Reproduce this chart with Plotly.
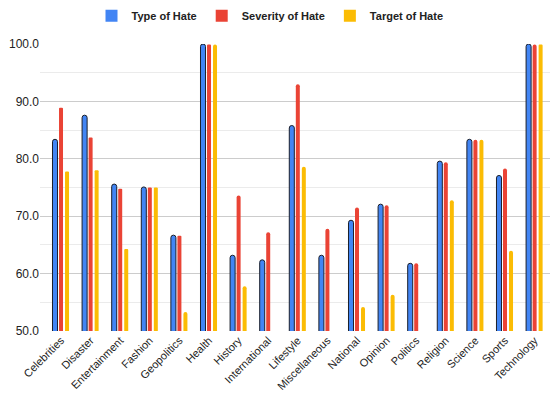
import plotly.graph_objects as go

categories = ["Celebrities", "Disaster", "Entertainment", "Fashion", "Geopolitics",
              "Health", "History", "International", "Lifestyle", "Miscellaneous",
              "National", "Opinion", "Politics", "Religion", "Science", "Sports",
              "Technology"]

type_of_hate = [83.4, 87.6, 75.6, 75.1, 66.7, 100.0, 63.2, 62.4, 85.8, 63.2,
                69.3, 72.1, 61.8, 79.6, 83.4, 77.1, 100.0]
severity_of_hate = [88.9, 83.7, 74.8, 75.0, 66.6, 99.9, 73.6, 67.2, 93.0, 67.8,
                    71.5, 71.9, 61.8, 79.4, 83.3, 78.3, 99.9]
target_of_hate = [77.8, 78.0, 64.3, 75.0, 53.3, 99.9, 57.8, None, 78.6, None,
                  54.2, 56.3, None, 72.8, 83.3, 64.0, 99.9]

y_ticks = [50, 60, 70, 80, 90, 100]

series = [
    ("Type of Hate", type_of_hate, "#4285F4"),
    ("Severity of Hate", severity_of_hate, "#EA4335"),
    ("Target of Hate", target_of_hate, "#FBBC04"),
]

font_family = "Liberation Sans, Arial, sans-serif"

# bar centres within each category slot (in category units) and bar widths
centres = [-0.203, 0.0, 0.203]
widths = [0.17, 0.135, 0.135]

fig = go.Figure()
for i, (name, values, color) in enumerate(series):
    is_first = i == 0
    fig.add_trace(go.Bar(
        name=name, x=categories, y=values,
        width=widths[i], offset=centres[i] - widths[i] / 2,
        marker=dict(
            color=color,
            line=dict(color="#1b1f2a", width=1) if is_first else dict(width=0),
            cornerradius=3 if is_first else 2,
        ),
        showlegend=False,
    ))

# square legend swatches
for name, values, color in series:
    fig.add_trace(go.Bar(
        name=name, x=[None], y=[None],
        marker=dict(color=color, line=dict(width=0)),
        showlegend=True,
    ))

fig.update_layout(
    width=550, height=398,
    margin=dict(l=40, r=0, t=44, b=67),
    paper_bgcolor="white", plot_bgcolor="white",
    barmode="overlay",
    font=dict(family=font_family, size=12, color="#222222"),
    legend=dict(
        orientation="h", x=0.451, xanchor="center", y=0.997, yanchor="top",
        yref="container", font=dict(size=11, color="#222222", weight="bold"),
        itemwidth=30, traceorder="normal",
    ),
    xaxis=dict(
        range=[-0.71, 16.52], tickangle=-45, showgrid=False, zeroline=False,
        showline=False, ticks="", tickfont=dict(size=11, color="#222222"),
    ),
    yaxis=dict(
        range=[50, 100], tickvals=y_ticks, tickformat=".1f",
        showgrid=True, gridcolor="#cccccc", gridwidth=1, zeroline=False,
        showline=False, ticks="", tickfont=dict(size=12, color="#222222"),
        minor=dict(dtick=5, showgrid=True, gridcolor="#ebebeb", gridwidth=1),
    ),
)

fig.write_html("out.html")
